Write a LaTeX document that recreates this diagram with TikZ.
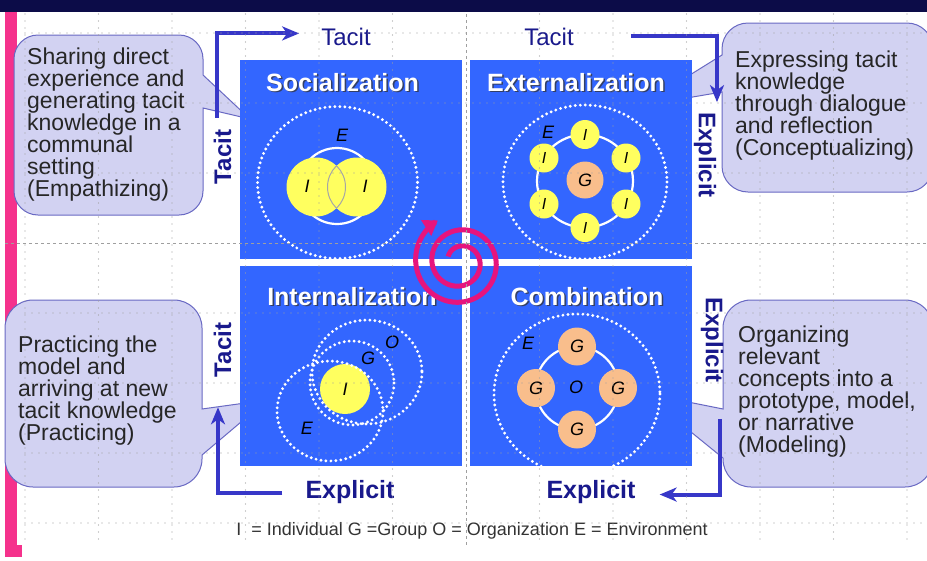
\documentclass[tikz,border=0pt]{standalone}
\usepackage{fontspec}
\setmainfont{Liberation Sans}
\usetikzlibrary{positioning, arrows.meta}
\definecolor{seciblue}{RGB}{51,102,255}
\definecolor{arrowblue}{RGB}{55,55,200}
\definecolor{navytext}{RGB}{25,25,140}
\definecolor{bubblefill}{RGB}{210,210,242}
\definecolor{bubbleline}{RGB}{105,105,195}
\definecolor{idyellow}{RGB}{255,255,95}
\definecolor{grporange}{RGB}{249,190,140}
\definecolor{spiralpink}{RGB}{230,20,125}
\definecolor{sidepink}{RGB}{245,50,140}
\definecolor{topnavy}{RGB}{12,12,72}
\tikzstyle{quadrant}   = [rectangle, fill=seciblue, draw=none, inner sep=0pt]
\tikzstyle{quadtitle}  = [text=white, font=\fontsize{25}{25}\selectfont\bfseries, inner sep=0pt, anchor=base]
\tikzstyle{quadshadow} = [quadtitle, text=black!80, opacity=0.75]
\tikzstyle{axislabel}  = [text=navytext, font=\fontsize{24}{24}\selectfont\bfseries, inner sep=2pt]
\tikzstyle{edgelabel}  = [text=navytext, font=\fontsize{24}{24}\selectfont, inner sep=2pt, anchor=base]
\tikzstyle{bubble}     = [fill=bubblefill, draw=bubbleline, line width=1pt]
\tikzstyle{bubbletext} = [align=left, anchor=north west, inner sep=0pt, text=black!85, font=\fontsize{23}{22}\selectfont]
\tikzstyle{turnarrow}  = [arrowblue, line width=4pt, -{Stealth[length=17pt, width=14pt, inset=5pt]}]
\tikzstyle{spiralline} = [spiralpink, line width=5pt, -{Triangle[length=14pt, width=18pt]}]
\tikzstyle{dotring}    = [white, line width=3.2pt, line cap=round, dash pattern=on 0pt off 5pt]
\tikzstyle{solidring}  = [white, line width=2.2pt]
\tikzstyle{inode}      = [circle, fill=idyellow, minimum size=29pt, inner sep=0pt, font=\fontsize{16}{16}\selectfont\itshape]
\tikzstyle{gnode}      = [circle, fill=grporange, minimum size=38pt, inner sep=0pt, font=\fontsize{18}{18}\selectfont\itshape]
\tikzstyle{setlabel}   = [inner sep=0pt, font=\fontsize{18}{18}\selectfont\itshape]
\tikzstyle{keytext}    = [inner sep=0pt, anchor=base, text=black!80, font=\fontsize{18}{18}\selectfont]
\tikzstyle{gridline}   = [gray!75, line width=1.1pt, line cap=round, dash pattern=on 0pt off 7pt]
\tikzstyle{guideline}  = [gray!75, line width=1pt, dash pattern=on 3pt off 3pt]

\begin{document}
\begin{tikzpicture}[x=1pt, y=-1pt]
            \clip (0,0) rectangle (927,560);
            \fill[white] (0,0) rectangle (927,560);
            \fill[topnavy] (0,0) rectangle (927,12);
            \fill[sidepink] (5,12) rectangle (17,548);
            \fill[sidepink] (5,545) rectangle (22,557);

            \draw[bubble] (38,35) -- (179,35) arc[start angle=270, end angle=360, radius=24] -- (203,75) -- (250,119) -- (203,108) -- (203,191) arc[start angle=0, end angle=90, radius=24] -- (38,215) arc[start angle=90, end angle=180, radius=24] -- (14,59) arc[start angle=180, end angle=270, radius=24] -- cycle;
            \draw[bubble] (748,23) -- (907,23) arc[start angle=270, end angle=360, radius=26] -- (933,166) arc[start angle=0, end angle=90, radius=26] -- (748,192) arc[start angle=90, end angle=180, radius=26] -- (722,92) -- (640,106) -- (722,55) -- (722,49) arc[start angle=180, end angle=270, radius=26] -- cycle;
            \draw[bubble] (33,300) -- (174,300) arc[start angle=270, end angle=360, radius=28] -- (202,409) -- (267,400) -- (202,455) -- (202,459) arc[start angle=0, end angle=90, radius=28] -- (33,487) arc[start angle=90, end angle=180, radius=28] -- (5,328) arc[start angle=180, end angle=270, radius=28] -- cycle;
            \draw[bubble] (751,300) -- (905,300) arc[start angle=270, end angle=360, radius=28] -- (933,459) arc[start angle=0, end angle=90, radius=28] -- (751,487) arc[start angle=90, end angle=180, radius=28] -- (723,458) -- (643,393) -- (723,409) -- (723,328) arc[start angle=180, end angle=270, radius=28] -- cycle;

            \node[bubbletext] (txtSoc) at (27,48)   {Sharing direct\\experience and\\generating tacit\\knowledge in a\\communal\\setting\\(Empathizing)};
            \node[bubbletext] (txtExt) at (735,51)  {Expressing tacit\\knowledge\\through dialogue\\and reflection\\(Conceptualizing)};
            \node[bubbletext] (txtInt) at (18,336)  {Practicing the\\model and\\arriving at new\\tacit knowledge\\(Practicing)};
            \node[bubbletext] (txtCom) at (738,326) {Organizing\\relevant\\concepts into a\\prototype, model,\\or narrative\\(Modeling)};

            \node[quadrant, minimum width=222pt, minimum height=199pt] (socq) at (351,159.5) {};
            \node[quadrant, minimum width=222pt, minimum height=199pt] (extq) at (581,159.5) {};
            \node[quadrant, minimum width=222pt, minimum height=200pt] (intq) at (351,366) {};
            \node[quadrant, minimum width=222pt, minimum height=200pt] (comq) at (581,366) {};

            \draw[dotring] (337.5,182.5) ellipse [x radius=80, y radius=76];
            \draw[solidring] (337,186) circle [radius=38];
            \fill[idyellow] (316,187) circle [radius=29.5];
            \fill[idyellow] (357,187) circle [radius=29.5];
            \begin{scope}
                \clip (357,187) circle [radius=29.5];
                \draw[gray!70, line width=1pt] (316,187) circle [radius=29.5];
            \end{scope}
            \begin{scope}
                \clip (316,187) circle [radius=29.5];
                \draw[gray!70, line width=1pt] (357,187) circle [radius=29.5];
            \end{scope}
            \node[setlabel] (sI1) at (307,186) {I};
            \node[setlabel] (sI2) at (365,186) {I};
            \node[setlabel] (sE)  at (342,135) {E};

            \draw[dotring] (585,182) ellipse [x radius=82, y radius=77];
            \draw[solidring] (585,181) ellipse [x radius=48, y radius=46.5];
            \node[gnode, minimum size=37pt] (eG) at (585,180) {G};
            \node[inode] (eI1) at (585,134.5) {I};
            \node[inode] (eI2) at (626,158)   {I};
            \node[inode] (eI3) at (626,204)   {I};
            \node[inode] (eI4) at (585,227.5) {I};
            \node[inode] (eI5) at (544,204)   {I};
            \node[inode] (eI6) at (544,158)   {I};
            \node[setlabel] (eE) at (548,132) {E};

            \node[inode, minimum size=50pt, font=\fontsize{18}{18}\selectfont\itshape] (iI) at (345,389) {I};
            \draw[dotring] (330,411) ellipse [x radius=53, y radius=50];
            \draw[dotring] (367,372) ellipse [x radius=55, y radius=52];
            \draw[dotring] (352,383) circle [radius=42];
            \node[setlabel] (iO) at (392,342) {O};
            \node[setlabel] (iG) at (368,358) {G};
            \node[setlabel] (iE) at (307,428) {E};

            \begin{scope}
                \clip (470,266) rectangle (692,466);
                \draw[dotring] (577,394) ellipse [x radius=83, y radius=80];
            \end{scope}
            \draw[solidring] (577,388) circle [radius=41.5];
            \node[gnode] (cG1) at (577,346.5) {G};
            \node[gnode] (cG2) at (536,388)   {G};
            \node[gnode] (cG3) at (618,388)   {G};
            \node[gnode] (cG4) at (577,429.5) {G};
            \node[setlabel] (cO) at (576,387) {O};
            \node[setlabel] (cE) at (528,343) {E};

            \node[quadshadow] (socsh) at (344,92.5)  {Socialization};
            \node[quadtitle]  (soc)   at (342.5,91)  {Socialization};
            \node[quadshadow] (extsh) at (577.5,92.5) {Externalization};
            \node[quadtitle]  (ext)   at (576,91)    {Externalization};
            \node[quadshadow] (intsh) at (353.5,306.5) {Internalization};
            \node[quadtitle]  (int)   at (352,305)   {Internalization};
            \node[quadshadow] (comsh) at (588.5,306.5) {Combination};
            \node[quadtitle]  (com)   at (587,305)   {Combination};

            \draw[spiralline] plot[domain=205:962, samples=160, smooth] ({460+(13+0.045*(\x-205))*cos(\x)}, {262+(13+0.045*(\x-205))*sin(\x)});

            \node[edgelabel] (tacitTL) at (346,45) {Tacit};
            \node[edgelabel] (tacitTR) at (549,45) {Tacit};
            \node[axislabel, rotate=90]  (tacitSoc) at (222.5,157) {Tacit};
            \node[axislabel, rotate=90]  (tacitInt) at (222.5,350) {Tacit};
            \node[axislabel, rotate=-90] (explExt)  at (705,155)   {Explicit};
            \node[axislabel, rotate=-90] (explCom)  at (712,340)   {Explicit};
            \node[axislabel, anchor=base, font=\fontsize{25}{25}\selectfont\bfseries] (explInt) at (350,498) {Explicit};
            \node[axislabel, anchor=base, font=\fontsize{25}{25}\selectfont\bfseries] (explBot) at (591,498) {Explicit};

            \draw[turnarrow] ([xshift=-6pt, yshift=10pt]tacitSoc.east) |- ([xshift=-20pt, yshift=3pt]tacitTL.west);
            \draw[turnarrow] ([xshift=55pt]tacitTR.east) -| ([xshift=12pt, yshift=8pt]explExt.west);
            \draw[turnarrow] ([xshift=8pt, yshift=-34pt]explCom.east) |- ([xshift=22pt, yshift=-3pt]explBot.east);
            \draw[turnarrow] ([xshift=-21pt, yshift=-1.5pt]explInt.west) -| ([xshift=-4.5pt, yshift=-28pt]tacitInt.west);

            \node[keytext] (key) at (472,535) {I \ = Individual G =Group O = Organization E = Environment};

            \foreach \gx in {0,1,2,3,4,5,7,8,9,10,11,12}
                \draw[gridline] ({25+73.5*\gx},14) -- ({25+73.5*\gx},545);
            \foreach \gy in {0,1,2,4,5,6,7}
                \draw[gridline] (25,{33+70*\gy}) -- (927,{33+70*\gy});
            \draw[guideline] (466,14) -- (466,545);
            \draw[guideline] (5,243) -- (927,243);
\end{tikzpicture}
\end{document}
